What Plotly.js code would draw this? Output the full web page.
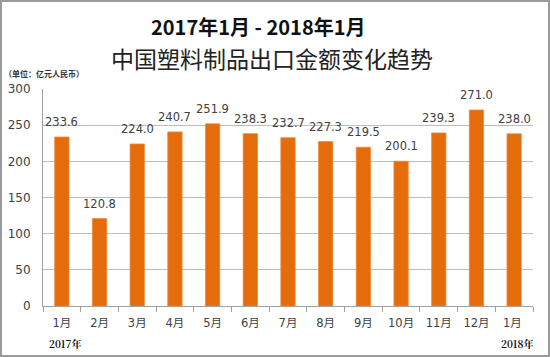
<!DOCTYPE html>
<html>
<head>
<meta charset="utf-8">
<script src="https://cdn.plot.ly/plotly-3.0.1.min.js"></script>
<style>
  html, body { margin: 0; padding: 0; background: #fff; }
  #wrap { position: relative; width: 550px; height: 357px; }
  #chart { width: 550px; height: 357px; }
  #frame { position: absolute; left: 0; top: 0; width: 550px; height: 357px; box-sizing: border-box; border: 2px solid #9a9a9a; pointer-events: none; }
</style>
</head>
<body>
<div id="wrap"><div id="chart"></div><div id="frame"></div></div>
<script>
// Data
const months = ['1月', '2月', '3月', '4月', '5月', '6月', '7月', '8月', '9月', '10月', '11月', '12月', '1月 '];
const values = [233.6, 120.8, 224.0, 240.7, 251.9, 238.3, 232.7, 227.3, 219.5, 200.1, 239.3, 271.0, 238.0];
const yTicks = [0, 50, 100, 150, 200, 250, 300];

const W = 550, H = 357;
const M = { l: 43, r: 17, t: 89, b: 51 };
const pw = W - M.l - M.r, ph = H - M.t - M.b;
const px = x => (x - M.l) / pw;
const py = y => (H - M.b - y) / ph;

const baseFont = 'DejaVu Sans, Noto Sans CJK SC, sans-serif';
const cjk = 'Noto Sans CJK SC, sans-serif';

const trace = {
  type: 'bar',
  x: months,
  y: values,
  marker: { color: '#E46C0A', line: { color: '#F08A3A', width: 0.8 } },
  hoverinfo: 'x+y'
};

const labelAnns = months.map((m, i) => ({
  x: m, y: values[i], xref: 'x', yref: 'y',
  text: values[i].toFixed(1),
  showarrow: false, yanchor: 'bottom', yshift: 6,
  font: { family: baseFont, size: 11.5, color: '#404040' }
}));

const otherAnns = [
  { text: '<b>2017年1月 - 2018年1月</b>', x: px(258), y: py(26), xref: 'paper', yref: 'paper',
    showarrow: false, xanchor: 'center', yanchor: 'middle', font: { family: cjk, size: 20, color: '#111' } },
  { text: '中国塑料制品出口金额变化趋势', x: px(272), y: py(58), xref: 'paper', yref: 'paper',
    showarrow: false, xanchor: 'center', yanchor: 'middle', font: { family: cjk, size: 23, color: '#222' } },
  { text: '<b>（单位：亿元人民币）</b>', x: px(2), y: py(73), xref: 'paper', yref: 'paper',
    showarrow: false, xanchor: 'left', yanchor: 'middle', font: { family: cjk, size: 8, color: '#333' } },
  { text: '<b>2017年</b>', x: px(47), y: py(343), xref: 'paper', yref: 'paper',
    showarrow: false, xanchor: 'left', yanchor: 'middle', font: { family: 'Noto Serif CJK SC, Noto Sans CJK SC, serif', size: 10, color: '#111' } },
  { text: '<b>2018年</b>', x: px(535), y: py(343), xref: 'paper', yref: 'paper',
    showarrow: false, xanchor: 'right', yanchor: 'middle', font: { family: 'Noto Serif CJK SC, Noto Sans CJK SC, serif', size: 10, color: '#111' } }
];

const layout = {
  width: W, height: H,
  margin: M,
  paper_bgcolor: '#fff', plot_bgcolor: '#fff',
  showlegend: false,
  bargap: 0.62,
  font: { family: baseFont, size: 11, color: '#404040' },
  xaxis: {
    type: 'category',
    tickson: 'boundaries',
    ticks: 'outside', ticklen: 5, tickcolor: '#a0a0a0', tickwidth: 1,
    showline: true, linecolor: '#a0a0a0', linewidth: 1,
    showgrid: false, zeroline: false,
    ticklabelstandoff: 6,
    tickfont: { family: baseFont, size: 11.5, color: '#404040' }
  },
  yaxis: {
    range: [0, 300],
    tickvals: yTicks,
    ticktext: yTicks.map(String),
    showgrid: true, gridcolor: '#bdbdbd', gridwidth: 1,
    showline: true, linecolor: '#a0a0a0', linewidth: 1,
    zeroline: false, ticks: '',
    ticklabelstandoff: 9,
    tickfont: { family: baseFont, size: 12, color: '#404040' }
  },
  annotations: labelAnns.concat(otherAnns)
};

Plotly.newPlot('chart', [trace], layout, { displayModeBar: false, staticPlot: true });
</script>
</body>
</html>
